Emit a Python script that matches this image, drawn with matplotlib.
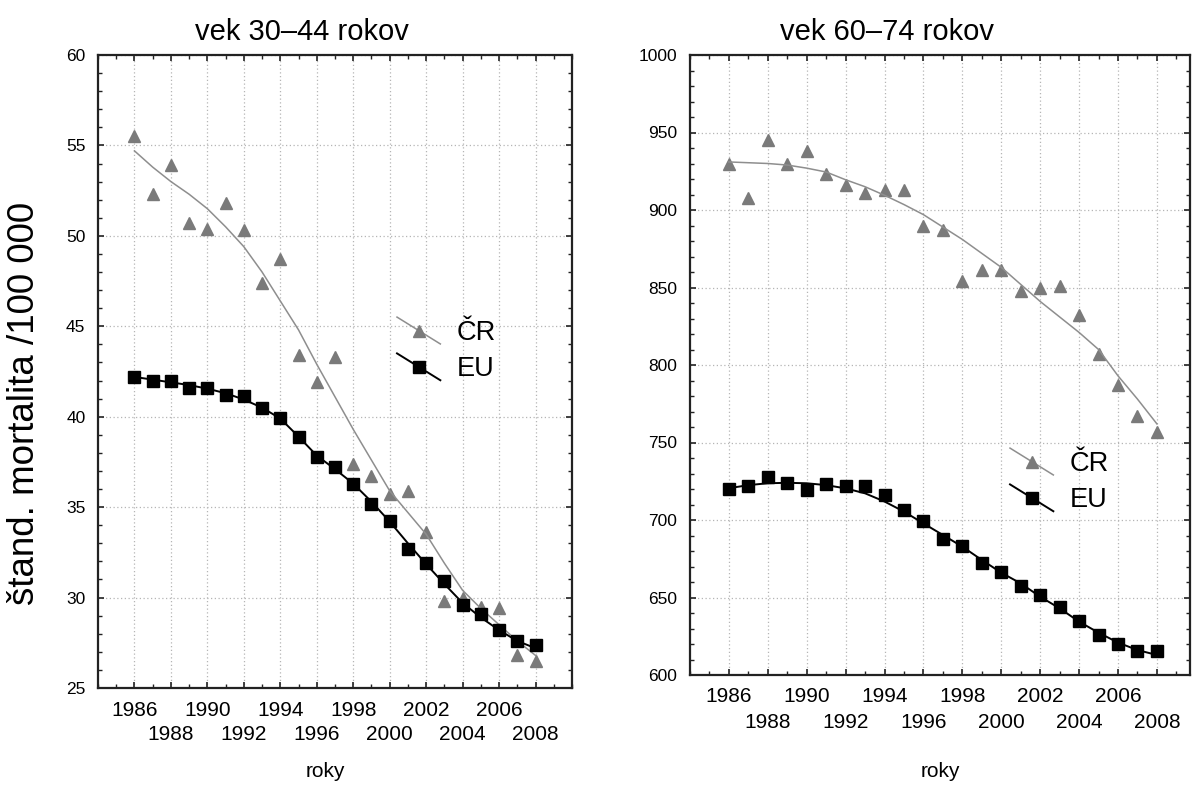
"""
Standardized mortality, ČR vs EU, two age groups (1986–2008).
"""
import matplotlib
matplotlib.use("Agg")
import matplotlib.pyplot as plt
from matplotlib.legend_handler import HandlerBase
from matplotlib.lines import Line2D
from matplotlib.ticker import FixedLocator, MultipleLocator

plt.rcParams["font.family"] = ["Liberation Sans", "DejaVu Sans"]

YEARS = list(range(1986, 2009))

# ── vek 30–44 ────────────────────────────────────────────────────────────────
CR_30_44 = [55.5, 52.3, 53.9, 50.7, 50.4, 51.8, 50.3, 47.4, 48.7, 43.4, 41.9, 43.3,
            37.4, 36.7, 35.7, 35.9, 33.6, 29.8, 30.0, 29.5, 29.4, 26.8, 26.5]
EU_30_44 = [42.2, 42.0, 42.0, 41.6, 41.6, 41.2, 41.15, 40.5, 39.95, 38.9, 37.8, 37.2,
            36.3, 35.2, 34.25, 32.7, 31.9, 30.9, 29.6, 29.1, 28.2, 27.6, 27.35]
CR_30_44_FIT = [54.7, 53.8, 53.0, 52.3, 51.5, 50.5, 49.4, 48.0, 46.4, 44.8, 42.9, 41.1,
                39.3, 37.6, 35.9, 34.7, 33.5, 31.9, 30.4, 29.4, 28.5, 27.6, 26.8]
EU_30_44_FIT = [42.2, 42.05, 41.9, 41.75, 41.55, 41.3, 40.95, 40.5, 39.9, 38.9, 37.85, 37.1,
                36.3, 35.3, 34.2, 33.0, 31.85, 30.75, 29.7, 28.9, 28.2, 27.6, 27.2]

# ── vek 60–74 ────────────────────────────────────────────────────────────────
CR_60_74 = [930, 908, 945, 930, 938, 923, 916, 911, 913, 913, 890, 887,
            854, 861, 861, 848, 850, 851, 832, 807, 787, 767, 757]
EU_60_74 = [720, 722, 727.5, 724, 719.5, 723, 722, 722, 716, 706.5, 699.5, 688,
            683, 672.5, 666.5, 657.5, 651.5, 644, 635, 625.5, 620, 615.5, 615.5]
CR_60_74_FIT = [931, 930.5, 930, 929, 927, 924.5, 919.5, 915, 909.5, 903.5, 897, 889,
                881, 872, 863, 852, 841, 831, 821, 810, 793, 778, 762]
EU_60_74_FIT = [720.5, 722.5, 723.7, 724, 723.7, 722.5, 720.4, 717.2, 711.9, 705.4, 697.8, 690.3,
                682.8, 674.2, 666.0, 659.1, 650.5, 643.0, 634.4, 627.3, 620.9, 616.1, 612.9]

TITLES = ["vek 30–44 rokov", "vek 60–74 rokov"]
SERIES = ["ČR", "EU"]
Y_LABEL = "štand. mortalita /100 000"
X_LABEL = "roky"

CR_MARK = "#7a7a7a"
CR_LINE = "#8e8e8e"
EU_COL = "#000000"


class SlantHandler(HandlerBase):
    """Legend key: short diagonal line with the marker in its middle."""
    def create_artists(self, legend, orig, xd, yd, width, height, fontsize, trans):
        xc, yc = -xd + width / 2, -yd + height / 2
        dy = 0.31 * width
        line = Line2D([-xd, -xd + width], [yc + dy, yc - dy],
                      color=orig.get_color(), lw=orig.get_linewidth())
        mark = Line2D([xc], [yc], ls="none", marker=orig.get_marker(),
                      ms=orig.get_markersize(), mfc=orig.get_markerfacecolor(),
                      mec=orig.get_markeredgecolor())
        for a in (line, mark):
            a.set_transform(trans)
        return [line, mark]


def draw_panel(ax, cr, eu, cr_fit, eu_fit, title, title_x, ylim, ymajor, yminor, xlim, label_xy):
    ax.plot(YEARS, cr, ls="none", marker="^", ms=9.3, color=CR_MARK, zorder=2)
    ax.plot(YEARS, cr_fit, color=CR_LINE, lw=1.1, zorder=2.5)
    ax.plot(YEARS, eu_fit, color=EU_COL, lw=1.4, zorder=3)
    ax.plot(YEARS, eu, ls="none", marker="s", ms=8.6, color=EU_COL, zorder=4)

    ax.set_xlim(*xlim)
    ax.set_ylim(*ylim)

    majors = YEARS[::2]
    ax.xaxis.set_major_locator(FixedLocator(majors))
    ax.set_xticklabels([str(y) for y in majors])
    ax.xaxis.set_minor_locator(MultipleLocator(1))
    ax.yaxis.set_major_locator(MultipleLocator(ymajor))
    ax.yaxis.set_minor_locator(MultipleLocator(yminor))

    ax.tick_params(which="both", direction="in", top=True, right=True, color="#222222")
    ax.tick_params(which="major", length=4, width=1.2)
    ax.tick_params(which="minor", length=3, width=1.0)
    ax.tick_params(axis="x", labelsize=15, pad=9)
    ax.tick_params(axis="y", labelsize=12.5, pad=9)

    # every second year label goes on a lower row
    for i, tick in enumerate(ax.xaxis.get_major_ticks()):
        if i % 2 == 1:
            tick.set_pad(27)

    ax.grid(True, which="major", color="#b5b5b5", ls=(0, (1, 2)), lw=0.9)
    for sp in ax.spines.values():
        sp.set_linewidth(1.6)
        sp.set_color("#222222")

    ax.set_title(title, fontsize=21, x=title_x, pad=11)
    ax.set_xlabel(X_LABEL, fontsize=15)
    ax.xaxis.set_label_coords(*label_xy)


fig = plt.figure(figsize=(11.95, 7.87), dpi=100)
ax1 = fig.add_axes([98 / 1195, 99 / 787, 474 / 1195, 633 / 787])
ax2 = fig.add_axes([690 / 1195, 112 / 787, 500 / 1195, 620 / 787])

draw_panel(ax1, CR_30_44, EU_30_44, CR_30_44_FIT, EU_30_44_FIT, TITLES[0], 0.43,
           (25, 60), 5, 1, (1984, 2010), (0.479, -0.117))
draw_panel(ax2, CR_60_74, EU_60_74, CR_60_74_FIT, EU_60_74_FIT, TITLES[1], 0.394,
           (600, 1000), 50, 10, (1984, 2009.7), (0.5, -0.140))

# ── Legends ───────────────────────────────────────────────────────────────────
handles = [Line2D([], [], color=CR_LINE, lw=1.1, marker="^", ms=9.3, mfc=CR_MARK, mec=CR_MARK),
           Line2D([], [], color=EU_COL, lw=1.4, marker="s", ms=8.6, mfc=EU_COL, mec=EU_COL)]
for ax, anchor in ((ax1, (397 / 1195, 1 - 320 / 787)), (ax2, (1010 / 1195, 1 - 451 / 787))):
    ax.legend(handles, SERIES, handler_map={Line2D: SlantHandler()}, loc="upper left",
              bbox_to_anchor=anchor, bbox_transform=fig.transFigure, frameon=False,
              fontsize=19.5, borderpad=0, borderaxespad=0, handlelength=1.6,
              handletextpad=0.6, labelspacing=0.38)

fig.text(25 / 1195, 1 - 403 / 787, Y_LABEL, rotation=90, fontsize=26.5, ha="center", va="center")

plt.savefig("out.png", dpi=100)
